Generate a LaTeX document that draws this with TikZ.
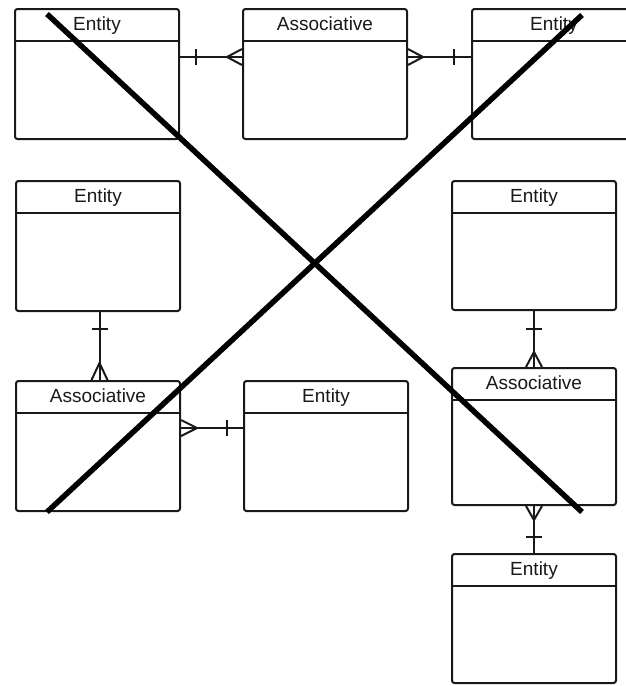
\documentclass[tikz,border=0pt]{standalone}
\usepackage{fontspec}
\setmainfont{Liberation Sans}
\begin{document}
\begin{tikzpicture}[x=1pt,y=-1pt,
  tbl/.style={draw=black!90, line width=2pt, rounded corners=2.5pt, fill=white, anchor=north west, minimum width=164pt, inner sep=0pt},
  ttl/.style={anchor=base, font=\fontsize{19}{22}\selectfont, text=black!90, inner sep=0pt},
  conn/.style={draw=black!90, line width=2pt},
  cross/.style={draw=black, line width=5.5pt}]
\clip (0,0) rectangle (626,686);
\useasboundingbox (0,0) rectangle (626,686);
\fill[white] (0,0) rectangle (626,686);
% tables
\node[tbl, minimum height=130pt] (e1) at (14,8) {};
\node[tbl, minimum height=130pt] (a1) at (242,8) {};
\node[tbl, minimum height=130pt] (e3) at (471,8) {};
\node[tbl, minimum height=130pt] (e4) at (15,180) {};
\node[tbl, minimum height=130pt] (a5) at (15,380) {};
\node[tbl, minimum height=130pt] (e6) at (243,380) {};
\node[tbl, minimum height=129pt] (e7) at (451,180) {};
\node[tbl, minimum height=137pt] (a8) at (451,367) {};
\node[tbl, minimum height=129pt] (e9) at (451,553) {};
% headers
\foreach \n/\t in {e1/Entity,a1/Associative,e3/Entity,e4/Entity,a5/Associative,e6/Entity,e7/Entity,a8/Associative,e9/Entity}{
  \draw[conn] ([yshift=-32.5pt]\n.north west) -- ([yshift=-32.5pt]\n.north east);
  \node[ttl] (t\n) at ([yshift=-22pt]\n.north) {\t};
}
% connector e1 -- a1
\coordinate (p1) at ([yshift=-49pt]e1.north east);
\coordinate (q1) at ([yshift=-49pt]a1.north west);
\draw[conn] (p1) -- (q1);
\draw[conn] ([xshift=16pt,yshift=-8pt]p1) -- ([xshift=16pt,yshift=8pt]p1);
\draw[conn] ([yshift=-8pt]q1) .. controls ([xshift=-8pt,yshift=-4pt]q1) .. ([xshift=-15pt]q1) .. controls ([xshift=-8pt,yshift=4pt]q1) .. ([yshift=8pt]q1);
% connector a1 -- e3
\coordinate (p2) at ([yshift=-49pt]a1.north east);
\coordinate (q2) at ([yshift=-49pt]e3.north west);
\draw[conn] (p2) -- (q2);
\draw[conn] ([xshift=-17pt,yshift=-8pt]q2) -- ([xshift=-17pt,yshift=8pt]q2);
\draw[conn] ([yshift=-8pt]p2) .. controls ([xshift=8pt,yshift=-4pt]p2) .. ([xshift=15pt]p2) .. controls ([xshift=8pt,yshift=4pt]p2) .. ([yshift=8pt]p2);
% connector e4 -- a5
\coordinate (p3) at ([xshift=1.5pt]e4.south);
\coordinate (q3) at ([xshift=1.5pt]a5.north);
\draw[conn] (p3) -- (q3);
\draw[conn] ([xshift=-8pt,yshift=-17pt]p3) -- ([xshift=8pt,yshift=-17pt]p3);
\draw[conn] ([xshift=-8pt]q3) .. controls ([xshift=-4pt,yshift=8pt]q3) .. ([yshift=17pt]q3) .. controls ([xshift=4pt,yshift=8pt]q3) .. ([xshift=8pt]q3);
% connector a5 -- e6
\coordinate (p4) at ([yshift=-48pt]a5.north east);
\coordinate (q4) at ([yshift=-48pt]e6.north west);
\draw[conn] (p4) -- (q4);
\draw[conn] ([xshift=-16pt,yshift=-8pt]q4) -- ([xshift=-16pt,yshift=8pt]q4);
\draw[conn] ([yshift=-8pt]p4) .. controls ([xshift=8pt,yshift=-4pt]p4) .. ([xshift=16pt]p4) .. controls ([xshift=8pt,yshift=4pt]p4) .. ([yshift=8pt]p4);
% connector e7 -- a8
\coordinate (p5) at (e7.south);
\coordinate (q5) at (a8.north);
\draw[conn] (p5) -- (q5);
\draw[conn] ([xshift=-8pt,yshift=-18pt]p5) -- ([xshift=8pt,yshift=-18pt]p5);
\draw[conn] ([xshift=-8pt]q5) .. controls ([xshift=-4pt,yshift=7pt]q5) .. ([yshift=15pt]q5) .. controls ([xshift=4pt,yshift=7pt]q5) .. ([xshift=8pt]q5);
% connector a8 -- e9
\coordinate (p6) at (a8.south);
\coordinate (q6) at (e9.north);
\draw[conn] (p6) -- (q6);
\draw[conn] ([xshift=-8pt,yshift=16pt]q6) -- ([xshift=8pt,yshift=16pt]q6);
\draw[conn] ([xshift=-8pt]p6) .. controls ([xshift=-4pt,yshift=-7pt]p6) .. ([yshift=-14pt]p6) .. controls ([xshift=4pt,yshift=-7pt]p6) .. ([xshift=8pt]p6);
% big cross
\coordinate (x1) at (47,14);
\coordinate (x2) at (582,512);
\coordinate (x3) at (582,15);
\coordinate (x4) at (47,512);
\draw[cross] (x1) -- (x2);
\draw[cross] (x3) -- (x4);
\end{tikzpicture}
\end{document}
